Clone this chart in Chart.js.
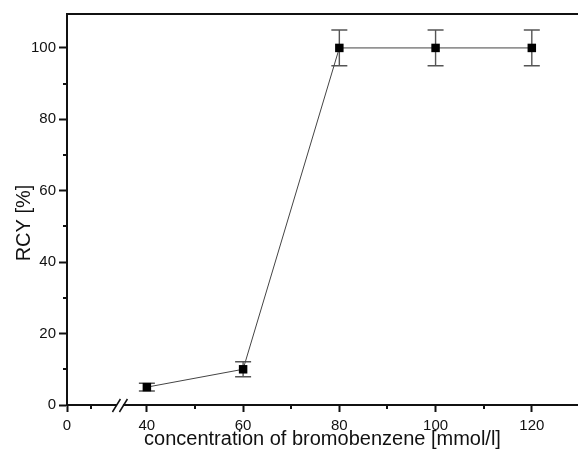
<!DOCTYPE html>
<html>
<head>
<meta charset="utf-8">
<script src="https://cdn.jsdelivr.net/npm/chart.js@4.4.0/dist/chart.umd.min.js"></script>
<style>
  html, body { margin: 0; padding: 0; background: #fff; }
  #wrap { width: 578px; height: 451px; }
</style>
</head>
<body>
<div id="wrap"><canvas id="chart"></canvas></div>
<script>
// data
const concentration = [40, 60, 80, 100, 120];   // mmol/l
const rcy = [5, 10, 100, 100, 100];             // %
const rcyError = [1.1, 2.1, 5, 5, 5];

// x axis is broken: the "0" label sits left of the break
const xAxisStart = 23.4;
const xAxisEnd = 129.6;
const xBreakAt = 34.4;
const xMajorTicks = [xAxisStart, 40, 60, 80, 100, 120];
const xTickLabels = ['0', '40', '60', '80', '100', '120'];
const xMinorTicks = [28.4, 50, 70, 90, 110];

const yMajorTicks = [0, 20, 40, 60, 80, 100];
const yMinorTicks = [10, 30, 50, 70, 90];
const yTitle = 'RCY [%]';

const FONT = "'Liberation Sans', Arial, sans-serif";
const INK = '#111';

// error bars, minor ticks, axis break, top frame line, y title
const decorations = {
    id: 'decorations',
    beforeDatasetsDraw(chart) {
        const ctx = chart.ctx;
        const xs = chart.scales.x, ys = chart.scales.y;
        ctx.save();
        ctx.strokeStyle = '#555';
        ctx.lineWidth = 1.4;
        concentration.forEach((c, i) => {
            const px = xs.getPixelForValue(c);
            const top = ys.getPixelForValue(rcy[i] + rcyError[i]);
            const bot = ys.getPixelForValue(rcy[i] - rcyError[i]);
            ctx.beginPath();
            ctx.moveTo(px, top); ctx.lineTo(px, bot);
            ctx.moveTo(px - 8, top); ctx.lineTo(px + 8, top);
            ctx.moveTo(px - 8, bot); ctx.lineTo(px + 8, bot);
            ctx.stroke();
        });
        ctx.restore();
    },
    afterDraw(chart) {
        const ctx = chart.ctx;
        const xs = chart.scales.x, ys = chart.scales.y;
        const area = chart.chartArea;
        ctx.save();
        ctx.strokeStyle = INK;
        ctx.lineWidth = 2;
        // minor ticks
        ctx.beginPath();
        xMinorTicks.forEach(v => {
            const px = Math.round(xs.getPixelForValue(v));
            ctx.moveTo(px, area.bottom); ctx.lineTo(px, area.bottom + 4);
        });
        yMinorTicks.forEach(v => {
            const py = Math.round(ys.getPixelForValue(v));
            ctx.moveTo(area.left, py); ctx.lineTo(area.left - 4, py);
        });
        // top frame
        ctx.moveTo(area.left, area.top); ctx.lineTo(area.right, area.top);
        ctx.stroke();

        // axis break
        const bx = xs.getPixelForValue(xBreakAt);
        const by = area.bottom;
        ctx.fillStyle = '#fff';
        ctx.fillRect(bx - 3, by - 2, 6, 4);
        ctx.lineWidth = 1.5;
        ctx.beginPath();
        [-3.5, 3.5].forEach(off => {
            ctx.moveTo(bx + off - 4, by + 7);
            ctx.lineTo(bx + off + 4, by - 6);
        });
        ctx.stroke();

        // y axis title
        ctx.translate(24, 223);
        ctx.rotate(-Math.PI / 2);
        ctx.fillStyle = INK;
        ctx.font = '20px ' + FONT;
        ctx.textAlign = 'center';
        ctx.textBaseline = 'middle';
        ctx.fillText(yTitle, 0, 0);
        ctx.restore();
    }
};

new Chart(document.getElementById('chart'), {
    type: 'line',
    data: {
        datasets: [{
            data: concentration.map((c, i) => ({ x: c, y: rcy[i] })),
            borderColor: '#444',
            borderWidth: 1,
            pointStyle: 'rect',
            pointRadius: 6,
            pointBackgroundColor: '#000',
            pointBorderColor: '#000',
            pointBorderWidth: 0,
            tension: 0
        }]
    },
    options: {
        responsive: true,
        maintainAspectRatio: false,
        animation: false,
        layout: { autoPadding: false, padding: { top: 14, right: 0, left: 0, bottom: 0 } },
        plugins: {
            legend: { display: false },
            tooltip: { enabled: false }
        },
        scales: {
            x: {
                type: 'linear',
                min: xAxisStart,
                max: xAxisEnd,
                afterBuildTicks: (scale) => {
                    scale.ticks = xMajorTicks.map(v => ({ value: v }));
                },
                afterFit: (scale) => { scale.height = 46; },
                grid: { drawOnChartArea: false, drawTicks: true, tickLength: 7, tickColor: INK, tickWidth: 2 },
                border: { color: INK, width: 2 },
                ticks: {
                    autoSkip: false,
                    maxRotation: 0,
                    padding: 5,
                    color: INK,
                    font: { family: FONT, size: 15 },
                    callback: (v, i) => xTickLabels[i]
                },
                title: {
                    display: true,
                    text: 'concentration of bromobenzene [mmol/l]',
                    color: INK,
                    font: { family: FONT, size: 20 },
                    padding: { top: 0, bottom: 0 }
                }
            },
            y: {
                min: 0,
                max: 109.5,
                afterBuildTicks: (scale) => {
                    scale.ticks = yMajorTicks.map(v => ({ value: v }));
                },
                afterFit: (scale) => { scale.width = 67; },
                grid: { drawOnChartArea: false, drawTicks: true, tickLength: 8, tickColor: INK, tickWidth: 2 },
                border: { color: INK, width: 2 },
                ticks: {
                    padding: 3,
                    color: INK,
                    font: { family: FONT, size: 15 }
                }
            }
        }
    },
    plugins: [decorations]
});
</script>
</body>
</html>
